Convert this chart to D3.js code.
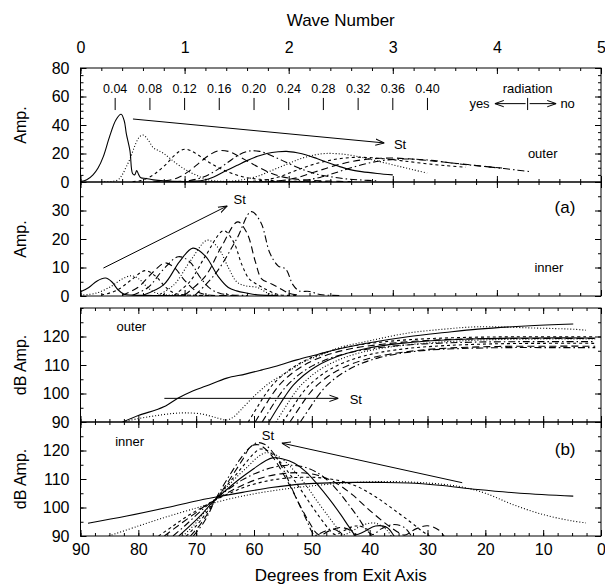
<!DOCTYPE html>
<html><head><meta charset="utf-8">
<script src="https://cdn.jsdelivr.net/npm/d3@7"></script>
<style>body{margin:0;background:#fff}svg{display:block}</style>
</head><body><svg id="c" width="605" height="586"></svg>
<script>
// ---------------- data ----------------
const stLabels = ["0.04","0.08","0.12","0.16","0.20","0.24","0.28","0.32","0.36","0.40"];
const stWave = [0.333,0.667,1.0,1.333,1.667,2.0,2.333,2.667,3.0,3.333];
const waveTicks = [0,1,2,3,4,5];
const degTicks = [90,80,70,60,50,40,30,20,10,0];
const ampOuterTicks = [0,20,40,60,80];
const ampInnerTicks = [0,10,20,30];
const dbTicks = [90,100,110,120];

// (a) outer amplitude vs wave number, one curve per Strouhal number
const outerAmp = [
 [[0,0.3],[0.06,1.5],[0.12,5],[0.17,10],[0.22,18],[0.28,32],[0.34,43.5],[0.39,47.5],[0.42,43],[0.44,34],[0.475,22],[0.5,6],[0.52,5],[0.54,8],[0.56,5],[0.58,3],[0.63,2.5],[0.7,1.5],[0.8,0.8],[1.0,0.3],[1.5,0.2],[2.2,0.1]],
 [[0.2,0.1],[0.3,0.4],[0.36,1.5],[0.4,5],[0.44,10.7],[0.48,17],[0.52,25],[0.56,31],[0.6,33],[0.65,29.5],[0.7,24],[0.75,22],[0.8,20],[0.86,16.5],[0.92,13],[1.0,9],[1.05,7],[1.12,4.5],[1.18,2.6],[1.25,1.2],[1.35,0.5],[1.6,0.2],[2.2,0.1]],
 [[0.5,0.2],[0.58,1],[0.64,2.6],[0.7,5],[0.76,8.4],[0.83,13],[0.89,17.8],[0.95,21.5],[1.0,23],[1.06,22],[1.15,18],[1.23,14],[1.31,10.7],[1.4,7.5],[1.5,4.9],[1.6,3],[1.72,1.9],[1.9,0.8],[2.1,0.4],[2.4,0.2]],
 [[0.7,0.2],[0.85,1.2],[0.95,3.5],[1.05,8],[1.15,14],[1.25,19.5],[1.33,22],[1.42,21.5],[1.52,18],[1.62,14],[1.72,10],[1.82,6.5],[1.92,4],[2.05,2.2],[2.2,1.2],[2.4,0.6],[2.6,0.3]],
 [[0.9,0.2],[1.05,1],[1.18,3.5],[1.3,8],[1.42,14],[1.52,19],[1.62,21.7],[1.72,21.5],[1.82,19],[1.94,15],[2.06,11],[2.18,7.5],[2.3,5],[2.42,3.5],[2.55,2.2],[2.7,1.4],[2.85,0.8]],
 [[1.0,0.2],[1.1,0.6],[1.18,1.2],[1.28,3.5],[1.4,8],[1.5,11.5],[1.6,15],[1.7,18],[1.79,20],[1.9,21.2],[1.98,21.5],[2.08,20.5],[2.17,19],[2.27,16.5],[2.36,14],[2.48,11],[2.59,8.7],[2.7,7.3],[2.85,6],[3.0,5]],
 [[1.4,0.2],[1.55,1.5],[1.7,4],[1.85,8.5],[2.0,13],[2.12,16.5],[2.25,19],[2.35,20],[2.48,19.8],[2.62,18.5],[2.78,16],[2.92,13.5],[3.06,11],[3.2,8.5],[3.33,6.3]],
 [[1.6,0.2],[1.75,1.2],[1.9,3.5],[2.05,7.5],[2.2,11.5],[2.35,14.5],[2.5,16.5],[2.65,17.3],[2.8,17],[2.95,16],[3.1,14.8],[3.3,13],[3.5,11.5],[3.7,10.4]],
 [[1.8,0.2],[1.95,1.2],[2.1,3.5],[2.25,7],[2.4,10.5],[2.55,13.5],[2.7,15.5],[2.85,16.5],[3.0,16.8],[3.15,16.3],[3.35,15],[3.55,13.5],[3.75,12],[3.9,10.8],[4.05,9.8]],
 [[2.0,0.2],[2.15,1.2],[2.3,3.2],[2.45,6.5],[2.6,10],[2.75,13],[2.9,15],[3.05,16],[3.2,16],[3.4,15],[3.6,13],[3.8,11.5],[4.0,10],[4.2,8.3],[4.33,7.2]]
];

// (a) inner amplitude vs wave number
const innerAmp = [
 [[0,1.5],[0.08,3],[0.16,5.3],[0.24,6.3],[0.3,5],[0.36,2.2],[0.42,0.6],[0.5,0.3],[0.7,0.2],[1.0,0.1]],
 [[0,0.3],[0.15,1],[0.3,3.5],[0.4,6],[0.49,7.1],[0.56,6],[0.63,3.5],[0.7,1.5],[0.8,0.5],[1.0,0.3],[1.3,0.1]],
 [[0.2,0.3],[0.35,2],[0.5,6],[0.62,8.9],[0.72,7],[0.82,3],[0.9,1],[1.0,0.4],[1.3,0.2]],
 [[0.4,0.3],[0.55,3],[0.7,8.5],[0.81,11.6],[0.9,10],[1.0,5.5],[1.1,2],[1.2,0.5],[1.5,0.2]],
 [[0.5,0.3],[0.65,3],[0.8,9.5],[0.94,13.8],[1.05,12],[1.15,6.5],[1.25,2.5],[1.35,0.8],[1.6,0.2]],
 [[0.6,0.3],[0.8,4],[0.95,12],[1.08,16.8],[1.2,14],[1.32,7],[1.42,3],[1.5,1.8],[1.6,1],[1.7,0.4],[1.9,0.2]],
 [[0.75,0.3],[0.9,4],[1.05,12],[1.22,19.6],[1.32,17],[1.42,10],[1.5,5],[1.58,3.6],[1.7,3],[1.8,1],[1.9,0.3]],
 [[0.9,0.3],[1.05,5],[1.2,14],[1.375,22.9],[1.47,19],[1.55,11],[1.62,6],[1.7,4],[1.8,2],[1.9,0.5],[2.1,0.2]],
 [[1.0,0.3],[1.2,7],[1.35,17],[1.51,26],[1.6,22],[1.68,12],[1.74,6],[1.82,4.5],[1.9,3],[2.0,1],[2.1,0.3]],
 [[1.1,0.3],[1.3,8],[1.5,20],[1.64,29.6],[1.73,26],[1.82,15],[1.9,10.5],[1.97,9.5],[2.04,4],[2.1,1.8],[2.2,1.6],[2.3,0.5],[2.5,0.2]]
];

// (b) outer dB amplitude vs degrees from exit axis
const outerDb = [
 [[82.7,90],[80,92.3],[77,94.2],[75.5,95.4],[73.1,98.4],[70.5,101],[68.3,102.6],[64.7,105.4],[61.5,106.8],[58.6,108.3],[55.5,110],[52.6,111.8],[49,113.7],[45.4,115.6],[40,117.8],[33.4,119.9],[27,121.4],[21.3,122.6],[13,123.7],[4.8,124.4]],
 [[82.7,90],[80,91.2],[77,92.2],[74,93],[71.9,93.2],[69,92.8],[66.5,91.5],[64.7,90.7],[63.5,91.8],[62.3,94.2],[60,99],[57.4,103.6],[54,107.8],[51.3,111.2],[48,113.8],[45.4,116],[40,118.5],[33.4,121.2],[27,122.6],[21.3,123.4],[12,123],[4.4,122.5],[2.6,122.2]],
 [[61,90],[59.5,95],[58.2,99.2],[56.8,103],[55,106.5],[53,109.5],[50.5,112.2],[47.5,114.5],[44,116.3],[39,117.8],[33,118.9],[25,119.6],[15,119.9],[1,119.9]],
 [[59.8,90],[58.3,95],[57,99.2],[55.6,103],[53.8,106.5],[51.8,109.4],[49.3,112],[46.3,114.2],[42.8,115.9],[37.8,117.3],[31.8,118.4],[23.8,119.1],[14,119.3],[1,119.3]],
 [[58.6,90],[57.1,94.8],[55.8,98.9],[54.4,102.6],[52.6,106],[50.6,108.9],[48.1,111.4],[45.1,113.5],[41.6,115.1],[36.6,116.5],[30.6,117.4],[22.6,118],[13,118.2],[1,118.2]],
 [[57.4,90],[55.9,95],[54.6,99.1],[53.2,102.9],[51.4,106.4],[49.4,109.3],[46.9,111.9],[43.9,114.1],[40.4,115.9],[35.4,117.4],[29.4,118.5],[21.4,119.2],[12,119.5],[1,119.5]],
 [[56.2,90],[54.7,94.8],[53.4,98.9],[52,102.6],[50.2,106],[48.2,108.9],[45.7,111.5],[42.7,113.7],[39.2,115.4],[34.2,116.9],[28.2,118],[20.2,118.8],[11,119.1],[1,119.1]],
 [[55,90],[53.5,94.6],[52.2,98.6],[50.8,102.2],[49,105.5],[47,108.3],[44.5,110.8],[41.5,112.9],[38,114.5],[33,115.9],[27,116.8],[19,117.4],[10,117.6],[1,117.6]],
 [[53.8,90],[52.3,94.5],[51,98.4],[49.6,101.9],[47.8,105.1],[45.8,107.8],[43.3,110.2],[40.3,112.2],[36.8,113.7],[31.8,115.1],[25.8,116],[17.8,116.5],[9,116.6],[1,116.6]],
 [[52,90],[50.5,94.5],[49.2,98.4],[47.8,102],[46,105.3],[44,108],[41.5,110.5],[38.5,112.5],[35,114],[30,115.2],[24,115.8],[16,116.1],[8,116.1],[1,116.1]]
];

// (b) inner dB amplitude vs degrees from exit axis
const innerDb = [
 [[88.7,94.5],[82,97],[75,100],[70,102.3],[67,103.5],[62,105.3],[57,107],[51.3,108.3],[46,108.7],[42.4,108.8],[38,108.8],[33.3,108.6],[28,107.8],[21.3,106.3],[14,105],[4.8,104]],
 [[85.1,90],[80,93.5],[75,96.8],[70,99.8],[67,101.6],[62,104],[57,105.8],[51.3,107.3],[45,108.5],[40,109],[36.3,109.1],[30,108.6],[24.3,107.3],[20,105],[15.2,101],[10,97.5],[5,95.3],[2.6,94.6]],
 [[76.5,90],[74,93.5],[71.5,97],[69,100],[67,102.3],[64,105.2],[61,107.6],[57,109.6],[53,110.5],[49,110.5],[45,109.3],[42,107.2],[39,103.8],[36,99.5],[33,95],[31,91.8],[29.7,90],[28.5,88]],
 [[75.5,90],[73,93.8],[70.5,97.5],[68.5,100.5],[67,102.3],[64,105.8],[61,108.7],[58,110.8],[55,111.9],[52,112.2],[49,111.3],[46,108.8],[43,104.5],[40,99],[37,94],[35,91.2],[34,90.3],[32,92.5],[30,93.6],[28,92],[26.5,88]],
 [[74,90],[72,93.5],[70,97.3],[68.5,100],[67,102.5],[64.5,106.3],[62,109.7],[59,112.6],[56,114.4],[53.5,114.8],[51,114],[48.5,111.5],[46,107],[44,102],[42,96.5],[40.5,92],[39.5,90.5],[38,92.5],[36,94],[34,93],[32.5,89]],
 [[73,90],[71,93.7],[69,97.7],[67,102.2],[65,105.8],[62.5,110],[60,113.7],[58,116.4],[56.8,117.4],[55,117],[53,115.5],[51,112.5],[49,108],[47,103],[45,97.5],[43.5,93],[42.5,90.5],[41,91.5],[39,93.5],[37,93],[35.5,89]],
 [[72.3,90],[70.3,94],[68.5,98.5],[67,102],[65,106.5],[63,110.7],[61,114.5],[59.3,117.8],[58,119.2],[56.5,118.7],[54.8,116.5],[53,112.8],[51,107.8],[49,102],[47,96.5],[45.5,92.5],[44.5,90.5],[43,91.8],[41,94],[39,94.5],[37,92],[36,89]],
 [[71.7,90],[69.8,94],[68.2,98.3],[67,101.8],[65,107],[63,111.8],[61.5,115.5],[60,119],[59,120.5],[57.8,120],[56.3,117.8],[54.5,113.5],[52.5,108],[50.5,102],[48.5,96.2],[47,92.3],[46,90.5],[44.5,91.8],[42.5,93.5],[40.5,92.5],[39.5,89]],
 [[71,90],[69.3,94],[67.9,98.3],[67,101.5],[65.3,106.5],[63.5,112],[62,116.7],[60.5,121.5],[59.2,122],[58,120.5],[56.5,117],[55,112],[53.5,106.5],[52,100.5],[50.5,95],[49.2,91],[48.5,90.3],[47,91.8],[45,93],[43,91.5],[42.5,89]],
 [[70.5,90],[68.8,94.4],[67.6,98.8],[67,101.5],[65.5,107],[64,112],[62.5,116.7],[61,120.5],[59.5,122.7],[58.2,122.2],[57,120],[55.8,116.5],[54.5,111.5],[53.3,106],[52,100.3],[51,96],[50,91.5],[49.5,90.2],[48,91.5],[46.5,92.5],[45,91],[44.5,89]]
];

// ---------------- layout ----------------
const FONT = "'Liberation Sans', Arial, Helvetica, sans-serif";
const X0 = 80.5, X1 = 601;
const P = [
  {top:68,  bottom:182},
  {top:182, bottom:296},
  {top:308, bottom:422},
  {top:422, bottom:536}
];
const dashes = ["none","1,2","3,3","7,4","7,3,1.5,3"];

const svg = d3.select("#c").style("font-family", FONT);
const xWave = d3.scaleLinear().domain([0,5]).range([X0,X1]);
const xDeg  = d3.scaleLinear().domain([90,0]).range([X0,X1]);
const yA = d3.scaleLinear().domain([0,80]).range([P[0].bottom,P[0].top]);
const yB = d3.scaleLinear().domain([0,40]).range([P[1].bottom,P[1].top]);
const yC = d3.scaleLinear().domain([90,130]).range([P[2].bottom,P[2].top]);
const yD = d3.scaleLinear().domain([90,130]).range([P[3].bottom,P[3].top]);

const defs = svg.append("defs");
P.forEach((p,i)=>{
  defs.append("clipPath").attr("id","clip"+i).append("rect")
    .attr("x",X0).attr("y",p.top).attr("width",X1-X0).attr("height",p.bottom-p.top);
});
defs.append("marker").attr("id","arr").attr("viewBox","0 0 10 10").attr("refX",10).attr("refY",5)
  .attr("markerWidth",9).attr("markerHeight",9).attr("markerUnits","userSpaceOnUse").attr("orient","auto")
  .append("path").attr("d","M0,1.5 L10,5 L0,8.5").attr("fill","none").attr("stroke","#000").attr("stroke-width",1.1);

function styleAxis(g, fs){
  g.select(".domain").remove();
  g.selectAll(".tick line").attr("stroke","#000").attr("stroke-width",1);
  g.selectAll("text").attr("fill","#000").style("font-family",FONT).style("font-size",fs+"px");
  g.attr("font-family",null).attr("font-size",null);
}

function panelAxes(i, xs, ys, xMaj, xMin, yMaj, yMin, opts){
  const p = P[i];
  let g = svg.append("g").attr("transform",`translate(${X0},0)`)
    .call(d3.axisLeft(ys).tickValues(yMaj).tickSize(-6).tickPadding(11).tickFormat(d3.format("d")));
  styleAxis(g, 16);
  g = svg.append("g").attr("transform",`translate(${X0},0)`)
    .call(d3.axisLeft(ys).tickValues(yMin).tickSize(-3).tickFormat(""));
  styleAxis(g, 16);
  g = svg.append("g").attr("transform",`translate(${X1},0)`)
    .call(d3.axisRight(ys).tickValues(yMaj).tickSize(-6).tickFormat(""));
  styleAxis(g, 16);
  g = svg.append("g").attr("transform",`translate(${X1},0)`)
    .call(d3.axisRight(ys).tickValues(yMin).tickSize(-3).tickFormat(""));
  styleAxis(g, 16);
  g = svg.append("g").attr("transform",`translate(0,${p.top})`)
    .call(d3.axisTop(xs).tickValues(xMaj).tickSize(-6).tickPadding(15)
      .tickFormat(opts.topLabels ? d3.format("d") : ""));
  styleAxis(g, 16);
  g = svg.append("g").attr("transform",`translate(0,${p.top})`)
    .call(d3.axisTop(xs).tickValues(xMin).tickSize(-3).tickFormat(""));
  styleAxis(g, 16);
  g = svg.append("g").attr("transform",`translate(0,${p.bottom})`)
    .call(d3.axisBottom(xs).tickValues(xMaj).tickSize(-6).tickPadding(8)
      .tickFormat(opts.bottomLabels ? d3.format("d") : ""));
  styleAxis(g, 16);
  g = svg.append("g").attr("transform",`translate(0,${p.bottom})`)
    .call(d3.axisBottom(xs).tickValues(xMin).tickSize(-3).tickFormat(""));
  styleAxis(g, 16);
  svg.append("rect").attr("x",X0).attr("y",p.top).attr("width",X1-X0).attr("height",p.bottom-p.top)
    .attr("fill","none").attr("stroke","#000").attr("stroke-width",1);
}

function drawCurves(i, curves, xs, ys){
  const line = d3.line().x(d=>xs(d[0])).y(d=>ys(d[1])).curve(d3.curveCatmullRom.alpha(0.5));
  svg.append("g").attr("clip-path",`url(#clip${i})`)
    .selectAll("path").data(curves).join("path")
    .attr("d", line).attr("fill","none").attr("stroke","#000").attr("stroke-width",1.1)
    .attr("stroke-dasharray",(d,k)=>dashes[k%5]);
}

const waveMinor = d3.range(0,5.001,0.2).map(v=>+v.toFixed(2));
const degMinor = d3.range(0,90.001,2.5);

drawCurves(0, outerAmp, xWave, yA);
drawCurves(1, innerAmp, xWave, yB);
drawCurves(2, outerDb, xDeg, yC);
drawCurves(3, innerDb, xDeg, yD);

panelAxes(0, xWave, yA, waveTicks, waveMinor, ampOuterTicks, d3.range(0,81,5), {topLabels:true});
panelAxes(1, xWave, yB, waveTicks, waveMinor, ampInnerTicks, d3.range(0,41,5), {});
panelAxes(2, xDeg, yC, degTicks, degMinor, dbTicks, d3.range(90,131,5), {});
panelAxes(3, xDeg, yD, degTicks, degMinor, dbTicks, d3.range(90,131,5), {bottomLabels:true});

// ---------------- annotations ----------------
function txt(x,y,s,fs,anchor){
  return svg.append("text").attr("x",x).attr("y",y).attr("text-anchor",anchor||"middle")
    .attr("dominant-baseline","central").style("font-size",fs+"px").attr("fill","#000").text(s);
}
function arrow(x1,y1,x2,y2){
  svg.append("line").attr("x1",x1).attr("y1",y1).attr("x2",x2).attr("y2",y2)
    .attr("stroke","#000").attr("stroke-width",1).attr("marker-end","url(#arr)");
}

txt((X0+X1)/2, 20, "Wave Number", 17);
txt((X0+X1)/2, 575, "Degrees from Exit Axis", 17);
[["Amp.",0],["Amp.",1],["dB Amp.",2],["dB Amp.",3]].forEach(([s,i])=>{
  svg.append("text").attr("transform",`translate(20,${(P[i].top+P[i].bottom)/2}) rotate(-90)`)
    .attr("text-anchor","middle").attr("dominant-baseline","central")
    .style("font-size","16px").attr("fill","#000").text(s);
});

stWave.forEach((k,i)=>{
  svg.append("line").attr("x1",xWave(k)).attr("x2",xWave(k)).attr("y1",yA(50.5)).attr("y2",yA(59))
    .attr("stroke","#000").attr("stroke-width",1);
  txt(xWave(k), yA(65.3), stLabels[i], 12.5);
});
const kr = 4.295;
txt(xWave(kr), yA(65.3), "radiation", 13);
svg.append("line").attr("x1",xWave(kr)).attr("x2",xWave(kr)).attr("y1",yA(50.5)).attr("y2",yA(59))
  .attr("stroke","#000").attr("stroke-width",1);
arrow(xWave(kr)-2, yA(55), xWave(3.98), yA(55));
arrow(xWave(kr)+2, yA(55), xWave(4.57), yA(55));
txt(xWave(3.93), yA(55), "yes", 13, "end");
txt(xWave(4.61), yA(55), "no", 13, "start");
txt(xWave(4.44), yA(20), "outer", 13);

arrow(xWave(0.504), yA(44.2), xWave(2.92), yA(27.4));
txt(xWave(3.07), yA(26.5), "St", 13);
arrow(xWave(0.22), yB(9.8), xWave(1.41), yB(31.6));
txt(xWave(1.53), yB(33.8), "St", 13);
txt(xWave(5.0)-36, yB(31), "(a)", 17);
txt(xWave(4.5), yB(10), "inner", 13);

arrow(xDeg(75.5), yC(98.3), xDeg(45.4), yC(98.3));
txt(xDeg(42.4), yC(98.0), "St", 13);
txt(xDeg(81.2), yC(123.4), "outer", 13);

arrow(xDeg(24), yD(108.7), xDeg(55.2), yD(122.6));
txt(xDeg(57.6), yD(125.4), "St", 13);
txt(xDeg(81.5), yD(123.1), "inner", 13);
txt(xDeg(6.2), yD(120.2), "(b)", 17);
</script></body></html>
